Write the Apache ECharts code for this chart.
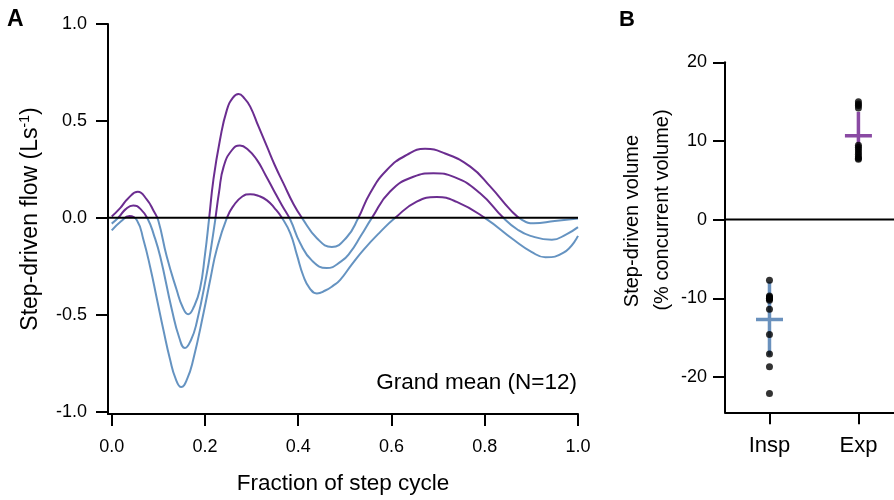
<!DOCTYPE html>
<html><head><meta charset="utf-8">
<script src="https://cdn.jsdelivr.net/npm/echarts@6/dist/echarts.min.js"></script>
<style>html,body{margin:0;padding:0;background:#fff}#c{width:894px;height:500px}</style>
</head><body><div id="c"></div>
<script>
// ---- Panel A data: fraction of step cycle (x) and step-driven flow in L/s (y), traced per curve
const phaseUpper = [0.000,0.018,0.035,0.056,0.075,0.090,0.100,0.118,0.139,0.152,0.164,0.176,0.189,0.200,0.209,0.218,0.232,0.247,0.260,0.272,0.285,0.297,0.315,0.333,0.350,0.368,0.390,0.408,0.440,0.472,0.504,0.529,0.554,0.590,0.633,0.672,0.715,0.769,0.812,0.855,0.880,0.905,0.950,1.000];
const flowUpper  = [0.007,0.050,0.100,0.134,0.095,0.035,-0.015,-0.200,-0.370,-0.460,-0.497,-0.460,-0.370,-0.190,0.000,0.196,0.400,0.557,0.620,0.639,0.615,0.574,0.470,0.367,0.270,0.179,0.070,0.000,-0.105,-0.150,-0.100,0.000,0.127,0.247,0.325,0.356,0.332,0.264,0.161,0.041,-0.010,-0.028,-0.016,-0.003];
const phaseMean = [0.000,0.015,0.030,0.046,0.062,0.078,0.090,0.104,0.129,0.145,0.157,0.170,0.182,0.204,0.214,0.222,0.230,0.240,0.258,0.275,0.293,0.311,0.330,0.347,0.365,0.383,0.404,0.430,0.461,0.492,0.511,0.535,0.558,0.597,0.647,0.690,0.735,0.790,0.840,0.870,0.898,0.944,0.975,1.000];
const flowMean  = [-0.030,0.003,0.045,0.064,0.045,-0.010,-0.085,-0.200,-0.474,-0.620,-0.672,-0.630,-0.543,-0.285,-0.140,-0.010,0.130,0.264,0.350,0.373,0.350,0.300,0.220,0.144,0.065,-0.010,-0.130,-0.222,-0.259,-0.225,-0.180,-0.090,0.000,0.136,0.212,0.230,0.210,0.127,0.000,-0.060,-0.093,-0.113,-0.085,-0.048];
const phaseLower = [0.000,0.020,0.038,0.054,0.068,0.083,0.097,0.111,0.125,0.137,0.149,0.162,0.175,0.197,0.212,0.225,0.247,0.262,0.280,0.297,0.315,0.333,0.350,0.365,0.383,0.397,0.411,0.425,0.440,0.458,0.475,0.490,0.515,0.540,0.575,0.608,0.654,0.697,0.740,0.800,0.862,0.900,0.930,0.969,1.000];
const flowLower  = [-0.065,-0.018,0.010,-0.012,-0.113,-0.260,-0.420,-0.580,-0.730,-0.830,-0.873,-0.830,-0.730,-0.490,-0.310,-0.165,0.000,0.065,0.110,0.122,0.113,0.090,0.048,0.000,-0.080,-0.190,-0.300,-0.365,-0.390,-0.375,-0.350,-0.320,-0.240,-0.165,-0.075,0.000,0.084,0.107,0.082,0.000,-0.113,-0.175,-0.203,-0.180,-0.093];
const xTicksA = [0, 0.2, 0.4, 0.6, 0.8, 1.0];
const yTicksA = [-1.0, -0.5, 0, 0.5, 1.0];
const xRangeA = [-0.008, 1.0];
const yRangeA = [-1.012, 1.0];

// ---- Panel B data: step-driven volume (% concurrent volume)
const groups = ['Insp', 'Exp'];
const groupPos = [1, 2];
const inspVolumes = [-7.7,-9.7,-9.85,-10.0,-10.0,-10.1,-10.25,-11.4,-14.6,-17.1,-18.7,-22.1];
const expVolumes = [15.0,14.7,14.5,14.2,9.45,9.2,8.9,8.6,8.3,8.0,7.8,7.67];
const groupMean = [-12.7, 10.66];
const groupLow = [-17.3, 7.6];
const groupHigh = [-7.9, 13.7];
const yTicksB = [-20, -10, 0, 10, 20];
const xRangeB = [0.5, 2.4];
const yRangeB = [-24.5, 20];

const FONT = '"Liberation Sans", Arial, sans-serif';
const PURPLE = '#6b2d90', BLUE = '#6593c1';
const crossColors = ['#6a91bd', '#8a4aa3'];

const chart = echarts.init(document.getElementById('c'), null, {renderer: 'canvas'});
const axisLineStyle = {color: '#000', width: 2};

function lineSeries(xs, vals) {
  return {
    type: 'line', xAxisIndex: 0, yAxisIndex: 0, smooth: 0.5, showSymbol: false,
    lineStyle: {width: 2}, z: 2, silent: true,
    data: xs.map((x, i) => [x, vals[i]])
  };
}
function zeroLine(idx, range) {
  return {
    type: 'line', xAxisIndex: idx, yAxisIndex: idx, z: 10, silent: true,
    showSymbol: false, symbol: 'none',
    lineStyle: {color: '#000', width: 2},
    data: range.map(x => [x, 0])
  };
}

chart.setOption({
  animation: false,
  backgroundColor: '#fff',
  textStyle: {fontFamily: FONT},
  grid: [
    {left: 108, top: 24, width: 470, height: 390},
    {left: 725, top: 62.3, width: 169, height: 350}
  ],
  xAxis: [
    {type: 'value', gridIndex: 0, min: xRangeA[0], max: xRangeA[1],
      axisLine: {onZero: false, lineStyle: axisLineStyle},
      axisTick: {customValues: xTicksA, length: 12, lineStyle: axisLineStyle},
      axisLabel: {customValues: xTicksA, formatter: v => v.toFixed(1), margin: 24, fontSize: 18, color: '#000', fontFamily: FONT},
      splitLine: {show: false},
      name: 'Fraction of step cycle', nameLocation: 'middle', nameGap: 58,
      nameTextStyle: {fontSize: 22.5, color: '#000', fontFamily: FONT}},
    {type: 'value', gridIndex: 1, min: xRangeB[0], max: xRangeB[1],
      axisLine: {onZero: false, lineStyle: axisLineStyle},
      axisTick: {customValues: groupPos, length: 12, lineStyle: axisLineStyle},
      axisLabel: {customValues: groupPos, formatter: v => groups[Math.round(v) - 1], margin: 23, fontSize: 22, color: '#000', fontFamily: FONT},
      splitLine: {show: false}}
  ],
  yAxis: [
    {type: 'value', gridIndex: 0, min: yRangeA[0], max: yRangeA[1],
      axisLine: {onZero: false, lineStyle: axisLineStyle},
      axisTick: {customValues: yTicksA, length: 12, lineStyle: axisLineStyle},
      axisLabel: {customValues: yTicksA, formatter: v => v.toFixed(1), margin: 21, fontSize: 18, color: '#000', fontFamily: FONT},
      splitLine: {show: false},
      name: 'Step-driven flow (Ls{sup|-1})', nameLocation: 'middle', nameGap: 64,
      nameTextStyle: {fontSize: 23, color: '#000', fontFamily: FONT,
        rich: {sup: {fontSize: 14, color: '#000', fontFamily: FONT, padding: [0, 0, 12, 0]}}}},
    {type: 'value', gridIndex: 1, min: yRangeB[0], max: yRangeB[1],
      axisLine: {onZero: false, lineStyle: axisLineStyle},
      axisTick: {customValues: yTicksB, length: 12, lineStyle: axisLineStyle},
      axisLabel: {customValues: yTicksB, margin: 18, fontSize: 18, color: '#000', fontFamily: FONT},
      splitLine: {show: false}}
  ],
  visualMap: {
    type: 'piecewise', show: false, dimension: 1, seriesIndex: [0, 1, 2],
    pieces: [{gt: -5, lte: 0, color: BLUE}, {gt: 0, lte: 5, color: PURPLE}],
    outOfRange: {color: BLUE}
  },
  graphic: [
    {type: 'text', left: 7, top: 8, style: {text: 'A', font: 'bold 23px ' + FONT, fill: '#000'}},
    {type: 'text', left: 619, top: 9, style: {text: 'B', font: 'bold 22px ' + FONT, fill: '#000'}},
    {type: 'text', x: 577, y: 383, style: {text: 'Grand mean (N=12)', font: '22.5px ' + FONT, fill: '#000',
      align: 'right', verticalAlign: 'middle', textAlign: 'right', textVerticalAlign: 'middle'}},
    {type: 'text', x: 632, y: 221, rotation: Math.PI / 2, style: {text: 'Step-driven volume', font: '20px ' + FONT, fill: '#000',
      align: 'center', verticalAlign: 'middle', textAlign: 'center', textVerticalAlign: 'middle'}},
    {type: 'text', x: 662, y: 210, rotation: Math.PI / 2, style: {text: '(% concurrent volume)', font: '20px ' + FONT, fill: '#000',
      align: 'center', verticalAlign: 'middle', textAlign: 'center', textVerticalAlign: 'middle'}}
  ],
  series: [
    lineSeries(phaseUpper, flowUpper),
    lineSeries(phaseMean, flowMean),
    lineSeries(phaseLower, flowLower),
    zeroLine(0, xRangeA),
    zeroLine(1, xRangeB),
    {
      type: 'custom', coordinateSystem: 'cartesian2d', xAxisIndex: 1, yAxisIndex: 1, z: 3, silent: true,
      encode: {x: 0, y: [1, 2, 3]},
      data: groupPos.map((p, i) => [p, groupMean[i], groupLow[i], groupHigh[i]]),
      renderItem: (params, api) => {
        const x = api.value(0);
        const c = api.coord([x, api.value(1)]);
        const lo = api.coord([x, api.value(2)]);
        const hi = api.coord([x, api.value(3)]);
        const color = crossColors[params.dataIndex];
        return {type: 'group', children: [
          {type: 'line', shape: {x1: c[0], y1: lo[1], x2: c[0], y2: hi[1]}, style: {stroke: color, lineWidth: 3.5}},
          {type: 'line', shape: {x1: c[0] - 13.5, y1: c[1], x2: c[0] + 13.5, y2: c[1]}, style: {stroke: color, lineWidth: 3.5}}
        ]};
      }
    },
    {
      type: 'scatter', xAxisIndex: 1, yAxisIndex: 1, symbolSize: 7, z: 4, silent: true,
      itemStyle: {color: '#000'},
      data: inspVolumes.map(v => [groupPos[0], v]).concat(expVolumes.map(v => [groupPos[1], v]))
    }
  ]
});
</script></body></html>
